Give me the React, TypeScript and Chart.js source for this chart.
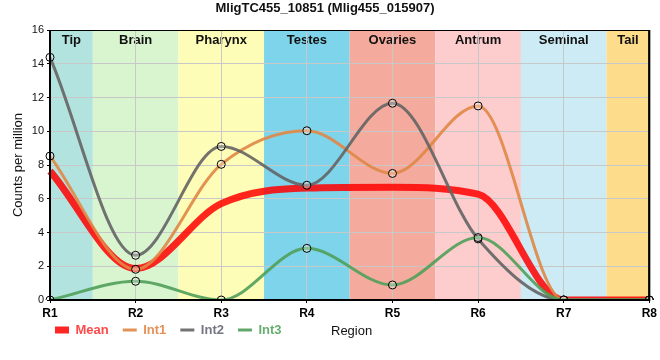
import React, { useEffect, useRef } from "react";
import { Chart, registerables } from "chart.js";

Chart.register(...registerables);

const regions = ["R1", "R2", "R3", "R4", "R5", "R6", "R7", "R8"];
const meanValues = [7.64, 1.86, 5.71, 6.63, 6.68, 6.27, 0, 0];
const int1Values = [8.53, 1.82, 8.04, 10.03, 7.5, 11.5, 0, 0];
const int2Values = [14.38, 2.65, 9.1, 6.8, 11.66, 3.62, 0, 0];
const int3Values = [0, 1.11, 0, 3.06, 0.89, 3.7, 0, 0];

const bandNames = ["Tip", "Brain", "Pharynx", "Testes", "Ovaries", "Antrum", "Seminal", "Tail"];
const bandColors = ["#b3e3df", "#d9f5d0", "#fefdb7", "#7ed4ea", "#f4ab9d", "#fdcdcd", "#cdebf4", "#fddc8c"];

const titleText = "MligTC455_10851 (Mlig455_015907)";
const yTitle = "Counts per million";
const xTitle = "Region";

const FONT = "'Liberation Sans', Arial, sans-serif";

export default function App() {
  const ref = useRef<HTMLCanvasElement | null>(null);

  useEffect(() => {
    document.body.style.margin = "0";
    const canvas = ref.current;
    if (!canvas) return;
    Chart.defaults.font.family = FONT;

    const bandsPlugin = {
      id: "bands",
      beforeDraw(chart: any) {
        const { ctx, chartArea } = chart;
        const xs = chart.scales.x;
        ctx.save();
        for (let i = 0; i < bandNames.length; i++) {
          let l = xs.getPixelForValue(i - 0.5);
          let r = xs.getPixelForValue(i + 0.5);
          l = Math.max(l, chartArea.left);
          r = Math.min(r, chartArea.right);
          ctx.fillStyle = bandColors[i];
          ctx.fillRect(l, chartArea.top, r - l, chartArea.bottom - chartArea.top);
          ctx.fillStyle = "#111";
          ctx.font = `bold 13px ${FONT}`;
          ctx.textAlign = "center";
          ctx.textBaseline = "middle";
          ctx.fillText(bandNames[i], (l + r) / 2, chartArea.top + 10);
        }
        ctx.restore();
        if (chart.legend) {
          chart.legend.left = chartArea.left - 9;
          chart.legend.top = 309.5;
        }
      },
      afterDatasetsDraw(chart: any) {
        const { ctx, chartArea } = chart;
        ctx.save();
        ctx.strokeStyle = "#000";
        ctx.lineWidth = 1;
        ctx.strokeRect(chartArea.left + 0.5, chartArea.top + 0.5, chartArea.right - chartArea.left - 1, chartArea.bottom - chartArea.top);
        ctx.lineWidth = 2;
        ctx.beginPath();
        ctx.moveTo(chartArea.left, chartArea.top);
        ctx.lineTo(chartArea.left, chartArea.bottom);
        ctx.lineTo(chartArea.right, chartArea.bottom);
        ctx.lineTo(chartArea.right, chartArea.top);
        ctx.stroke();
        ctx.restore();
      },
      afterDraw(chart: any) {
        const { ctx } = chart;
        ctx.save();
        ctx.fillStyle = "#111";
        ctx.font = `13px ${FONT}`;
        ctx.textAlign = "left";
        ctx.textBaseline = "middle";
        ctx.fillText(xTitle, 331, 331);
        ctx.restore();
      },
    };

    const lineColors: Record<string, string> = {
      Mean: "rgba(255,0,0,0.85)",
      Int1: "rgba(224,135,70,0.9)",
      Int2: "rgba(100,100,100,0.9)",
      Int3: "rgba(80,160,90,0.9)",
    };
    const legendColors: Record<string, string> = {
      Mean: "rgba(255,40,40,0.85)",
      Int1: "rgba(228,140,80,0.95)",
      Int2: "rgba(110,110,125,0.95)",
      Int3: "rgba(95,170,105,0.95)",
    };

    const pointBase = {
      pointRadius: 4,
      pointBorderColor: "#000",
      pointBorderWidth: 1,
      pointBackgroundColor: "rgba(255,255,255,0.3)",
      borderWidth: 3,
      cubicInterpolationMode: "monotone" as const,
      fill: false,
    };

    const chart = new Chart(canvas, {
      type: "line",
      data: {
        labels: regions,
        datasets: [
          { label: "Int3", data: int3Values, borderColor: lineColors.Int3, backgroundColor: lineColors.Int3, ...pointBase },
          { label: "Int2", data: int2Values, borderColor: lineColors.Int2, backgroundColor: lineColors.Int2, ...pointBase },
          { label: "Int1", data: int1Values, borderColor: lineColors.Int1, backgroundColor: lineColors.Int1, ...pointBase },
          {
            label: "Mean",
            data: meanValues,
            borderColor: lineColors.Mean,
            backgroundColor: lineColors.Mean,
            borderWidth: 7,
            pointRadius: 0,
            cubicInterpolationMode: "monotone" as const,
            fill: false,
          },
        ],
      },
      options: {
        responsive: false,
        animation: false,
        layout: { padding: { left: 0, right: 10, top: 0, bottom: 3 } },
        scales: {
          x: {
            offset: false,
            grid: { color: "#c8c8c8", tickColor: "#000", tickLength: 3 },
            border: { display: false },
            ticks: { color: "#000", font: { size: 12, weight: "bold" }, padding: 3, maxRotation: 0 },
            afterFit(scale: any) {
              scale.height = 20;
            },
          },
          y: {
            min: 0,
            max: 16,
            grid: { color: "#c8c8c8", tickColor: "#000", tickLength: 3 },
            border: { display: false },
            ticks: { stepSize: 2, color: "#111", font: { size: 11 }, padding: 3 },
            title: { display: true, text: yTitle, color: "#111", font: { size: 13 }, padding: { top: 11, bottom: 0 } },
            afterFit(scale: any) {
              scale.width = 50;
            },
          },
        },
        plugins: {
          title: {
            display: true,
            text: titleText,
            color: "#111",
            font: { size: 13, weight: "bold" },
            padding: { top: 1, bottom: 13.4 },
          },
          tooltip: { enabled: false },
          legend: {
            position: "bottom",
            align: "start",
            fullSize: false,
            reverse: true,
            labels: {
              usePointStyle: true,
              pointStyleWidth: 14,
              padding: 14,
              font: { size: 13, weight: "bold" },
              generateLabels(ch: any) {
                const items = Chart.defaults.plugins.legend.labels.generateLabels(ch);
                return items.map((it: any) => ({
                  ...it,
                  pointStyle: "line",
                  strokeStyle: lineColors[it.text],
                  fillStyle: lineColors[it.text],
                  lineWidth: it.text === "Mean" ? 7 : 3,
                  lineCap: "butt",
                  lineDash: [],
                  fontColor: legendColors[it.text],
                }));
              },
            },
          },
        },
      },
      plugins: [bandsPlugin],
    } as any);

    return () => chart.destroy();
  }, []);

  return (
    <div style={{ width: 660, height: 360 }}>
      <canvas ref={ref} width={660} height={360} />
    </div>
  );
}
